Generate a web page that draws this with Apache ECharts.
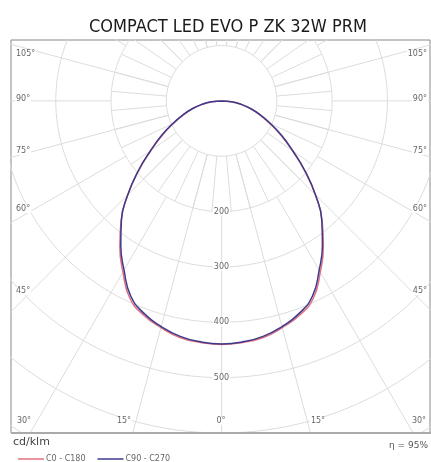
<!DOCTYPE html>
<html>
<head>
<meta charset="utf-8">
<script src="https://cdn.jsdelivr.net/npm/echarts@6/dist/echarts.min.js"></script>
<style>
html,body{margin:0;padding:0;background:#fff;}
#chart{width:431px;height:462px;}
</style>
</head>
<body>
<div id="chart"></div>
<script>
// gamma angles (deg from nadir) and intensities in cd/klm
var gammas = [0, 5, 10, 15, 20, 25, 30, 35, 40, 45, 50, 55, 60, 65, 70, 75, 80, 85, 90];
var c0c180 = [440, 438, 434, 424, 412, 393, 357, 321, 283, 240, 196, 156, 124, 96, 73, 54, 35, 17, 0];
var c90c270 = [439, 437, 432, 422, 409, 389, 353, 318, 282, 240, 197, 157, 126, 98, 75, 55, 36, 18, 0];

var rings = [100, 200, 300, 400, 500, 600, 700];
var ringLabels = ['200', '300', '400', '500'];
var leftAngleLabels = ['105°', '90°', '75°', '60°', '45°'];
var bottomAngleLabels = ['30°', '15°', '0°', '15°', '30°'];

var chart = echarts.init(document.getElementById('chart'));

var rad = Math.PI / 180;

// polar (gamma, I) -> cartesian, nadir pointing down, closed at the top
function curve(vals) {
  var pts = [];
  for (var i = gammas.length - 1; i >= 0; i--) {
    var g = gammas[i] * rad;
    pts.push([-vals[i] * Math.sin(g), -vals[i] * Math.cos(g)]);
  }
  for (var j = 1; j < gammas.length - 1; j++) {
    var g2 = gammas[j] * rad;
    pts.push([vals[j] * Math.sin(g2), -vals[j] * Math.cos(g2)]);
  }
  pts.push(pts[0]);
  return pts;
}

var gridStyle = {color: '#dcdcdc', width: 1};
var series = [];

// rings
rings.forEach(function (r) {
  var d = [];
  for (var a = 0; a <= 360; a += 2) {
    d.push([r * Math.sin(a * rad), -r * Math.cos(a * rad)]);
  }
  series.push({type: 'line', data: d, showSymbol: false, silent: true, lineStyle: gridStyle, z: 1});
});

// radial lines: fine ones between 100 and 200, coarse ones from 200 outwards
function radial(a, r1, r2) {
  series.push({
    type: 'line', showSymbol: false, silent: true, lineStyle: gridStyle, z: 1,
    data: [[r1 * Math.sin(a * rad), -r1 * Math.cos(a * rad)], [r2 * Math.sin(a * rad), -r2 * Math.cos(a * rad)]]
  });
}
for (var a = 5; a < 360; a += 10) radial(a, 100, 200);
for (var b = 0; b < 360; b += 15) radial(b, (b % 10 === 5) ? 100 : 200, 800);

series.push({
  name: 'C0 - C180', type: 'line', data: curve(c0c180), showSymbol: false, smooth: 0.5,
  lineStyle: {color: '#e07080', width: 1.5}, itemStyle: {color: '#e07080'}, z: 3
});
series.push({
  name: 'C90 - C270', type: 'line', data: curve(c90c270), showSymbol: false, smooth: 0.5,
  lineStyle: {color: '#3d3a8c', width: 1.5}, itemStyle: {color: '#3d3a8c'}, z: 4
});

// text labels
var small = {fontFamily: 'DejaVu Sans', fontSize: 8, fill: '#666'};
var graphics = [];
var leftY = [55, 100, 152, 210, 292];
leftAngleLabels.forEach(function (t, i) {
  graphics.push({type: 'text', left: 15, top: leftY[i] - 5, z: 10,
    style: Object.assign({text: t, backgroundColor: '#fff', padding: [0, 1]}, small)});
  graphics.push({type: 'text', right: 3, top: leftY[i] - 5, z: 10,
    style: Object.assign({text: t, backgroundColor: '#fff', padding: [0, 1]}, small)});
});
var bottomX = [24, 124, 221, 318, 419];
bottomAngleLabels.forEach(function (t, i) {
  graphics.push({type: 'text', x: bottomX[i], y: 421, z: 10,
    style: Object.assign({text: t, align: 'center', verticalAlign: 'middle', backgroundColor: '#fff', padding: [0, 1]}, small)});
});
ringLabels.forEach(function (t, i) {
  graphics.push({type: 'text', x: 221.5, y: 101 + (i + 2) * 55.3, z: 10,
    style: Object.assign({text: t, align: 'center', verticalAlign: 'middle', backgroundColor: '#fff', padding: [0, 1]}, small)});
});
graphics.push({type: 'text', left: 13, top: 437, z: 10,
  style: {text: 'cd/klm', fontFamily: 'DejaVu Sans', fontSize: 11, fill: '#444'}});
graphics.push({type: 'text', right: 3, top: 441, z: 10,
  style: {text: 'η = 95%', fontFamily: 'DejaVu Sans', fontSize: 9, fill: '#555'}});

var option = {
  animation: false,
  title: {
    text: 'COMPACT LED EVO P ZK 32W PRM',
    left: 84,
    top: 13,
    textStyle: {fontFamily: '"Liberation Sans Narrow", "DejaVu Sans Condensed", sans-serif', fontSize: 18, fontWeight: 'normal', color: '#1a1a1a'}
  },
  grid: {left: 11, right: 1, top: 40, bottom: 29, show: true, borderColor: '#888', borderWidth: 1},
  xAxis: {
    type: 'value', min: -381, max: 377,
    axisLine: {show: false}, axisTick: {show: false}, axisLabel: {show: false}, splitLine: {show: false}
  },
  yAxis: {
    type: 'value', min: -600, max: 110,
    axisLine: {show: false}, axisTick: {show: false}, axisLabel: {show: false}, splitLine: {show: false}
  },
  legend: {
    data: ['C0 - C180', 'C90 - C270'],
    left: 13, top: 450,
    icon: 'rect', itemWidth: 26, itemHeight: 1.5, itemGap: 12,
    textStyle: {fontFamily: 'DejaVu Sans', fontSize: 8, color: '#666', padding: [0, 0, 0, -3]}
  },
  graphic: graphics.concat([{
    type: 'line', z: 9, shape: {x1: 11, y1: 433, x2: 431, y2: 433}, style: {stroke: '#aaa', lineWidth: 2}
  }]),
  series: series
};

chart.setOption(option);
</script>
</body>
</html>
